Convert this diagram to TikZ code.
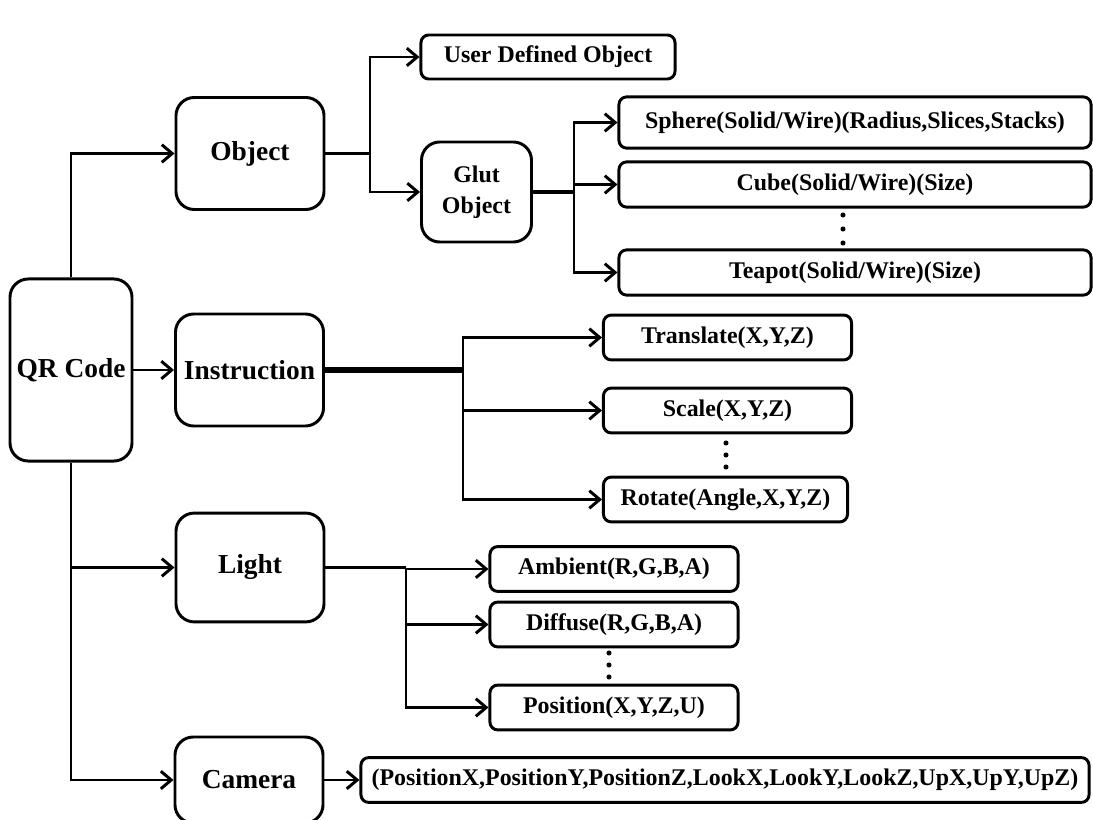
\documentclass[tikz,border=0pt]{standalone}
\usepackage{fontspec}
\setmainfont{Liberation Serif}
\usetikzlibrary{arrows.meta,positioning}

\begin{document}
\begin{tikzpicture}[
    x=0.025cm, y=-0.025cm,
    bigbox/.style={
      draw, rounded corners=13pt,
      line width=2.1pt,
      minimum width=3.7cm,
      minimum height=2.8cm,
      align=center,
      font=\bfseries\fontsize{19.5}{23}\selectfont
    },
    smallbox/.style={
      draw, rounded corners=5.5pt,
      line width=2.1pt,
      minimum width=6.2cm,
      minimum height=1.12cm,
      inner sep=2pt,
      align=center,
      font=\bfseries\fontsize{17}{22}\selectfont
    },
    wire/.style={line width=2.1pt},
    arrow/.style={
      -{Straight Barb[length=2.6mm,width=4.4mm]},
      line width=2.1pt
    }]

    \useasboundingbox (0,0) rectangle (1093,820);

    % Root
    \node[bigbox,minimum width=3.05cm,minimum height=4.55cm] (qr) at (71,370) {QR Code};

    % Main groups
    \node[bigbox] (obj) at (250,153.5) {Object};
    \node[bigbox] (instr) at (249.5,370) {Instruction};
    \node[bigbox,minimum height=2.72cm] (light) at (250,567.5) {Light};
    \node[bigbox,minimum height=2.15cm] (cam) at (249,780) {Camera};

    % Object branch
    \node[smallbox,minimum width=6.35cm,minimum height=1.1cm] (usrobj) at (548,57) {User Defined Object};
    \node[bigbox,minimum width=2.75cm,minimum height=2.5cm,
          font=\bfseries\fontsize{17}{22}\selectfont] (glut) at (476.5,192) {Glut\\Object};
    \node[smallbox,minimum width=11.8cm,minimum height=1.28cm] (sphere) at (855,122.5) {Sphere(Solid/Wire)(Radius,Slices,Stacks)};
    \node[smallbox,minimum width=11.8cm,minimum height=1.13cm] (cube) at (855,184.5) {Cube(Solid/Wire)(Size)};
    \node[smallbox,minimum width=11.8cm,minimum height=1.13cm] (teapot) at (855,272.5) {Teapot(Solid/Wire)(Size)};

    % Instruction branch
    \node[smallbox] (transl) at (727.5,337.5) {Translate(X,Y,Z)};
    \node[smallbox] (scl) at (727.5,410.5) {Scale(X,Y,Z)};
    \node[smallbox,minimum width=6.1cm] (rot) at (725.5,499.5) {Rotate(Angle,X,Y,Z)};

    % Light branch
    \node[smallbox] (amb) at (614,569) {Ambient(R,G,B,A)};
    \node[smallbox] (diff) at (614,624.5) {Diffuse(R,G,B,A)};
    \node[smallbox] (pos) at (614,707.5) {Position(X,Y,Z,U)};

    % Camera parameters
    \node[smallbox,minimum width=18.2cm,minimum height=1.12cm] (campar) at (725,780)
      {(PositionX,PositionY,PositionZ,LookX,LookY,LookZ,UpX,UpY,UpZ)};

    % forks
    \coordinate (objfork) at (370,153.5);
    \coordinate (glutfork) at (574,192);
    \coordinate (instrfork) at (463,370);
    \coordinate (lightfork) at (406,567.5);

    % QR Code to the groups
    \draw[arrow] (qr.north) |- (obj.west);
    \draw[arrow] (qr.east) -- (instr.west);
    \draw[arrow] (qr.south) |- (light.west);
    \draw[arrow] (qr.south) |- (cam.west);

    % Object
    \draw[wire] (obj.east) -- (objfork);
    \draw[arrow] (objfork) |- (usrobj.west);
    \draw[arrow] (objfork) |- (glut.west);
    \draw[wire,line width=2.8pt] (glut.east) -- (glutfork);
    \draw[arrow] (glutfork) |- (sphere.west);
    \draw[arrow] (glutfork) |- (cube.west);
    \draw[arrow] (glutfork) |- (teapot.west);

    % Instruction
    \draw[wire,line width=3.6pt] (instr.east) -- (instrfork);
    \draw[arrow] (instrfork) |- (transl.west);
    \draw[arrow] (instrfork) |- (scl.west);
    \draw[arrow] (instrfork) |- (rot.west);

    % Light
    \draw[wire] (light.east) -- (lightfork);
    \draw[arrow] (lightfork) |- (amb.west);
    \draw[arrow] (lightfork) |- (diff.west);
    \draw[arrow] (lightfork) |- (pos.west);

    % Camera
    \draw[arrow] (cam.east) -- (campar.west);

    % dots
    \foreach \yy in {215,229,243} \fill (843,\yy) circle (1.8pt);
    \foreach \yy in {443,455,467} \fill (726,\yy) circle (1.8pt);
    \foreach \yy in {653,665,677} \fill (609,\yy) circle (1.8pt);
\end{tikzpicture}
\end{document}
